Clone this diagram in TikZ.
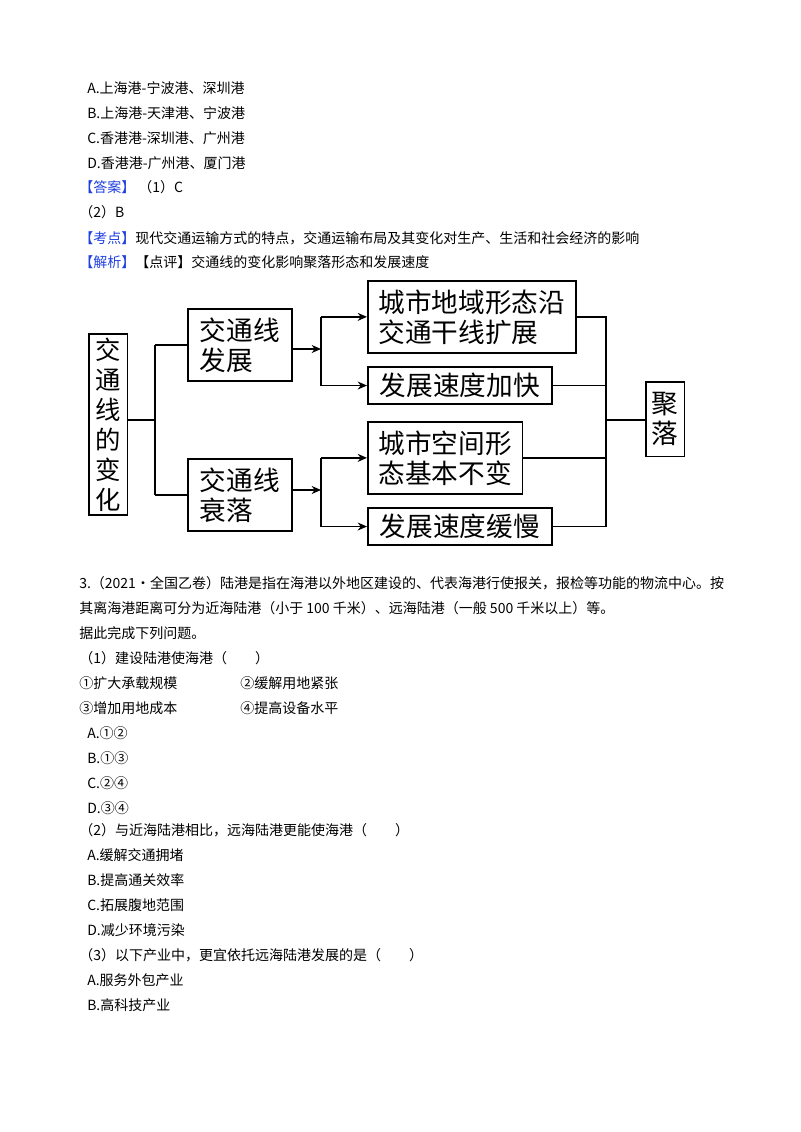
\documentclass[tikz,border=0pt]{standalone}
\usepackage{fontspec}
\setmainfont{Noto Sans CJK SC}
\usetikzlibrary{arrows.meta,positioning}
\definecolor{tagblue}{HTML}{1F3FE0}
\tikzset{
  line/.style={anchor=west,inner sep=0pt,font=\fontsize{10.5pt}{12pt}\selectfont},
  box/.style={draw,line width=1.3pt,anchor=north west,inner sep=2pt,align=left,
              font=\fontsize{20pt}{22.5pt}\selectfont},
  link/.style={line width=1pt},
  arr/.style={line width=1pt,-{Stealth[length=7pt,width=6pt]}}
}
\begin{document}
\begin{tikzpicture}[x=0.75pt,y=-0.75pt]
  \useasboundingbox[fill=white] (0,0) rectangle (800,1132);
  % answer text above
  \node[line] (a1) at (87,88)  {A.上海港-宁波港、深圳港};
  \node[line] (a2) at (87,113) {B.上海港-天津港、宁波港};
  \node[line] (a3) at (87,138) {C.香港港-深圳港、广州港};
  \node[line] (a4) at (87,163) {D.香港港-广州港、厦门港};
  \node[line] (ans) at (79,187) {\textcolor{tagblue}{【答案】}\ （1）C};
  \node[line] (ans2) at (79,212) {（2）B};
  \node[line] (kd) at (79,238) {\textcolor{tagblue}{【考点】}现代交通运输方式的特点，交通运输布局及其变化对生产、生活和社会经济的影响};
  \node[line] (jx) at (79,262) {\textcolor{tagblue}{【解析】}【点评】交通线的变化影响聚落形态和发展速度};
  % diagram
  \node[box,align=center,minimum width=29pt,minimum height=136pt,inner sep=1pt,
        font=\fontsize{19pt}{22.5pt}\selectfont] (chg) at (88,333)
    {交\\通\\线\\的\\变\\化};
  \node[box,minimum width=78pt,minimum height=54pt] (dev) at (187,308) {交通线\\发展};
  \node[box,minimum width=78pt,minimum height=54pt] (dec) at (187,458) {交通线\\衰落};
  \node[box,minimum width=156pt,minimum height=54pt] (r1) at (367,280) {城市地域形态沿\\交通干线扩展};
  \node[box,minimum width=138pt,minimum height=28pt] (r2) at (367,366) {发展速度加快};
  \node[box,minimum width=116pt,minimum height=54pt] (r3) at (367,421) {城市空间形\\态基本不变};
  \node[box,minimum width=138pt,minimum height=28pt] (r4) at (367,507) {发展速度缓慢};
  \node[box,align=center,minimum width=29pt,minimum height=56pt,inner sep=1pt] (jl) at (645,381) {聚\\落};
  \coordinate (lj) at (155,420);
  \coordinate (uj) at (321,349);
  \coordinate (dj) at (321,490);
  \coordinate (bus) at (606,420);
  \draw[link] (chg.east |- lj) -- (lj) (lj |- dev.west) -- (lj |- dec.west);
  \draw[link] (lj |- dev.west) -- (dev.west) (lj |- dec.west) -- (dec.west);
  \draw[arr] (dev.east |- uj) -- (uj);
  \draw[link] (uj |- r1.west) -- (uj |- r2.west);
  \draw[arr] (uj |- r1.west) -- (r1.west);
  \draw[arr] (uj |- r2.west) -- (r2.west);
  \draw[arr] (dec.east |- dj) -- (dj);
  \draw[link] (dj |- r3.west) -- (dj |- r4.west);
  \draw[arr] (dj |- r3.west) -- (r3.west);
  \draw[arr] (dj |- r4.west) -- (r4.west);
  \draw[link] (r1.east) -- (bus |- r1.east) -- (bus |- r4.east) -- (r4.east);
  \draw[link] (r2.east) -- (bus |- r2.east) (r3.east) -- (bus |- r3.east);
  \draw[link] (bus) -- (jl.west |- bus);
  % question 3
  \node[line] (q1) at (79,583) {3.（2021·全国乙卷）陆港是指在海港以外地区建设的、代表海港行使报关，报检等功能的物流中心。按};
  \node[line] (q2) at (79,608) {其离海港距离可分为近海陆港（小于 100 千米）、远海陆港（一般 500 千米以上）等。};
  \node[line] (q3) at (79,633) {据此完成下列问题。};
  \node[line] (q4) at (79,658) {（1）建设陆港使海港（\qquad）};
  \node[line] (o1) at (79,683) {①扩大承载规模};
  \node[line] (o2) at (240,683) {②缓解用地紧张};
  \node[line] (o3) at (79,708) {③增加用地成本};
  \node[line] (o4) at (240,708) {④提高设备水平};
  \node[line] (c1) at (87,733) {A.①②};
  \node[line] (c2) at (87,758) {B.①③};
  \node[line] (c3) at (87,783) {C.②④};
  \node[line] (c4) at (87,808) {D.③④};
  \node[line] (q5) at (79,830) {（2）与近海陆港相比，远海陆港更能使海港（\qquad）};
  \node[line] (d1) at (87,855) {A.缓解交通拥堵};
  \node[line] (d2) at (87,880) {B.提高通关效率};
  \node[line] (d3) at (87,905) {C.拓展腹地范围};
  \node[line] (d4) at (87,930) {D.减少环境污染};
  \node[line] (q6) at (79,955) {（3）以下产业中，更宜依托远海陆港发展的是（\qquad）};
  \node[line] (e1) at (87,980) {A.服务外包产业};
  \node[line] (e2) at (87,1005) {B.高科技产业};
\end{tikzpicture}
\end{document}
